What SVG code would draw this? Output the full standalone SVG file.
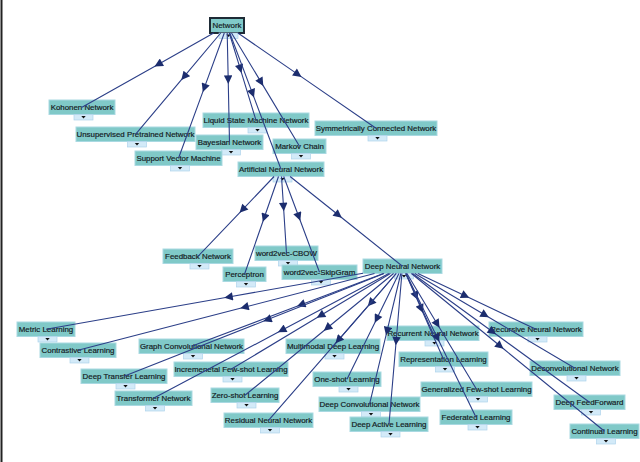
<svg xmlns="http://www.w3.org/2000/svg" xmlns:xlink="http://www.w3.org/1999/xlink" width="640" height="462" viewBox="0 0 640 462">
<style>
.box{fill:#80c9c8;stroke:#a9d9e2;stroke-width:1}
.root{fill:#80c9c8;stroke:#1e2b36;stroke-width:2}
.lbl{font-family:"Liberation Sans",Arial,sans-serif;font-size:7.9px;fill:#141a22;stroke:#141a22;stroke-width:0.18;text-anchor:middle}
.tgr{fill:#d3eaf8;stroke:#aed3ec;stroke-width:0.7}
.edge{fill:none;stroke:#2c3f88;stroke-width:1.1;marker-mid:url(#arr)}
</style>
<defs>
<marker id="arr" viewBox="0 0 10 10" refX="10" refY="5" markerWidth="10" markerHeight="8.5" markerUnits="userSpaceOnUse" orient="auto"><path d="M0,0 L10,5 L0,10 z" fill="#1c2d6e"/></marker>
<g id="tg"><rect x="-9.5" y="0" width="19" height="5.5" class="tgr"/><path d="M-2.2,1.4 L2.2,1.4 L0,4.1 z" fill="#111"/></g>
</defs>
<rect width="640" height="462" fill="#ffffff"/>
<line x1="1.5" y1="0" x2="1.5" y2="462" stroke="#222" stroke-width="2"/>

<g id="nodes">
<g id="n-network"><rect class="root" x="210" y="18" width="34" height="15"/><text class="lbl" x="227" y="28.3">Network</text><use xlink:href="#tg" x="228.5" y="33"/></g>
<g id="n-kohonen"><rect class="box" x="49" y="100" width="66" height="14.5"/><text class="lbl" x="82" y="110.3">Kohonen Network</text><use xlink:href="#tg" x="83.5" y="114.5"/></g>
<g id="n-unsup"><rect class="box" x="76" y="127" width="119" height="14.5"/><text class="lbl" x="135.5" y="137.3">Unsupervised Pretrained Network</text><use xlink:href="#tg" x="137" y="141.5"/></g>
<g id="n-lsm"><rect class="box" x="203" y="113" width="106" height="14.5"/><text class="lbl" x="256" y="123.3">Liquid State Machine Network</text><use xlink:href="#tg" x="257.5" y="127.5"/></g>
<g id="n-symm"><rect class="box" x="315" y="121" width="122" height="14.5"/><text class="lbl" x="376" y="131.3">Symmetrically Connected Network</text><use xlink:href="#tg" x="377.5" y="135.5"/></g>
<g id="n-bayes"><rect class="box" x="196" y="135" width="67" height="14.5"/><text class="lbl" x="229.5" y="145.3">Bayesian Network</text><use xlink:href="#tg" x="231" y="149.5"/></g>
<g id="n-markov"><rect class="box" x="273" y="139" width="53" height="14.5"/><text class="lbl" x="299.5" y="149.3">Markov Chain</text><use xlink:href="#tg" x="301" y="153.5"/></g>
<g id="n-svm"><rect class="box" x="135" y="151" width="87" height="14.5"/><text class="lbl" x="178.5" y="161.3">Support Vector Machine</text><use xlink:href="#tg" x="180" y="165.5"/></g>
<g id="n-ann"><rect class="box" x="238" y="162" width="86" height="14.5"/><text class="lbl" x="281" y="172.3">Artificial Neural Network</text><use xlink:href="#tg" x="282.5" y="176.5"/></g>
<g id="n-feedback"><rect class="box" x="163" y="249" width="70" height="14.5"/><text class="lbl" x="198" y="259.3">Feedback Network</text><use xlink:href="#tg" x="199.5" y="263.5"/></g>
<g id="n-cbow"><rect class="box" x="255" y="246" width="63" height="14.5"/><text class="lbl" x="286.5" y="256.3">word2vec-CBOW</text><use xlink:href="#tg" x="288" y="260.5"/></g>
<g id="n-perceptron"><rect class="box" x="223" y="267" width="43" height="14.5"/><text class="lbl" x="244.5" y="277.3">Perceptron</text><use xlink:href="#tg" x="246" y="281.5"/></g>
<g id="n-skipgram"><rect class="box" x="282" y="265" width="75" height="14.5"/><text class="lbl" x="319.5" y="275.3">word2vec-SkipGram</text><use xlink:href="#tg" x="321" y="279.5"/></g>
<g id="n-dnn"><rect class="box" x="363" y="259" width="79" height="14.5"/><text class="lbl" x="402.5" y="269.3">Deep Neural Network</text><use xlink:href="#tg" x="404" y="273.5"/></g>
<g id="n-metric"><rect class="box" x="17" y="322" width="58" height="14.5"/><text class="lbl" x="46" y="332.3">Metric Learning</text><use xlink:href="#tg" x="47.5" y="336.5"/></g>
<g id="n-contrastive"><rect class="box" x="40" y="343" width="76" height="14.5"/><text class="lbl" x="78" y="353.3">Contrastive Learning</text><use xlink:href="#tg" x="79.5" y="357.5"/></g>
<g id="n-gcn"><rect class="box" x="139" y="339" width="105" height="14.5"/><text class="lbl" x="191.5" y="349.3">Graph Convolutional Network</text><use xlink:href="#tg" x="193" y="353.5"/></g>
<g id="n-multimodal"><rect class="box" x="286" y="339" width="94" height="14.5"/><text class="lbl" x="333" y="349.3">Multimodal Deep Learning</text><use xlink:href="#tg" x="334.5" y="353.5"/></g>
<g id="n-incremental"><rect class="box" x="174" y="362" width="114" height="14.5"/><text class="lbl" x="231" y="372.3">Incremenetal Few-shot Learning</text><use xlink:href="#tg" x="232.5" y="376.5"/></g>
<g id="n-transfer"><rect class="box" x="81" y="369" width="86" height="14.5"/><text class="lbl" x="124" y="379.3">Deep Transfer Learning</text><use xlink:href="#tg" x="125.5" y="383.5"/></g>
<g id="n-zeroshot"><rect class="box" x="211" y="388" width="68" height="14.5"/><text class="lbl" x="245" y="398.3">Zero-shot Learning</text><use xlink:href="#tg" x="246.5" y="402.5"/></g>
<g id="n-transformer"><rect class="box" x="115" y="391" width="77" height="14.5"/><text class="lbl" x="153.5" y="401.3">Transformer Network</text><use xlink:href="#tg" x="155" y="405.5"/></g>
<g id="n-residual"><rect class="box" x="224" y="413" width="89" height="14.5"/><text class="lbl" x="268.5" y="423.3">Residual Neural Network</text><use xlink:href="#tg" x="270" y="427.5"/></g>
<g id="n-recurrent"><rect class="box" x="387" y="326" width="92" height="14.5"/><text class="lbl" x="433" y="336.3">Recurrent Neural Network</text><use xlink:href="#tg" x="434.5" y="340.5"/></g>
<g id="n-recursive"><rect class="box" x="489" y="322" width="94" height="14.5"/><text class="lbl" x="536" y="332.3">Recursive Neural Network</text><use xlink:href="#tg" x="537.5" y="336.5"/></g>
<g id="n-representation"><rect class="box" x="399" y="352" width="89" height="14.5"/><text class="lbl" x="443.5" y="362.3">Representation Learning</text><use xlink:href="#tg" x="445" y="366.5"/></g>
<g id="n-deconv"><rect class="box" x="530" y="361" width="90" height="14.5"/><text class="lbl" x="575" y="371.3">Deconvolutional Network</text><use xlink:href="#tg" x="576.5" y="375.5"/></g>
<g id="n-oneshot"><rect class="box" x="313" y="372" width="68" height="14.5"/><text class="lbl" x="347" y="382.3">One-shot Learning</text><use xlink:href="#tg" x="348.5" y="386.5"/></g>
<g id="n-genfewshot"><rect class="box" x="421" y="382" width="111" height="14.5"/><text class="lbl" x="476.5" y="392.3">Generalized Few-shot Learning</text><use xlink:href="#tg" x="478" y="396.5"/></g>
<g id="n-deepconv"><rect class="box" x="319" y="397" width="101" height="14.5"/><text class="lbl" x="369.5" y="407.3">Deep Convolutional Network</text><use xlink:href="#tg" x="371" y="411.5"/></g>
<g id="n-deepff"><rect class="box" x="554" y="395" width="71" height="14.5"/><text class="lbl" x="589.5" y="405.3">Deep FeedForward</text><use xlink:href="#tg" x="591" y="409.5"/></g>
<g id="n-deepactive"><rect class="box" x="350" y="417" width="78" height="14.5"/><text class="lbl" x="389" y="427.3">Deep Active Learning</text><use xlink:href="#tg" x="390.5" y="431.5"/></g>
<g id="n-federated"><rect class="box" x="440" y="410" width="72" height="14.5"/><text class="lbl" x="476" y="420.3">Federated Learning</text><use xlink:href="#tg" x="477.5" y="424.5"/></g>
<g id="n-continual"><rect class="box" x="570" y="424" width="69" height="14.5"/><text class="lbl" x="604.5" y="434.3">Continual Learning</text><use xlink:href="#tg" x="606" y="438.5"/></g>
</g>

<g id="connectors">
<path class="edge" d="M213.7,33 L154.5,66.4 L82,107.3"/>
<path class="edge" d="M220.7,33 L181.3,79.9 L135.5,134.3"/>
<path class="edge" d="M229.3,33 L241.5,72.9 L256,120.3"/>
<path class="edge" d="M237.9,33 L301.5,76.9 L376,128.3"/>
<path class="edge" d="M227.2,33 L228.3,83.9 L229.5,142.3"/>
<path class="edge" d="M231.5,33 L263.3,85.9 L299.5,146.3"/>
<path class="edge" d="M224.3,33 L202.8,91.9 L178.5,158.3"/>
<path class="edge" d="M229.8,33 L254,97.4 L281,169.3"/>
<path class="edge" d="M274.1,176.5 L239.5,212.8 L198,256.3"/>
<path class="edge" d="M281.5,176.5 L283.8,211.3 L286.5,253.3"/>
<path class="edge" d="M278.5,176.5 L262.8,221.8 L244.5,274.3"/>
<path class="edge" d="M283.7,176.5 L300.3,220.8 L319.5,272.3"/>
<path class="edge" d="M290.1,176.5 L341.8,217.8 L402.5,266.3"/>
<path class="edge" d="M363,273.2 L224.3,297.8 L46,329.3"/>
<path class="edge" d="M374.5,273.5 L240.3,308.3 L78,350.3"/>
<path class="edge" d="M383.4,273.5 L297,306.3 L191.5,346.3"/>
<path class="edge" d="M396.2,273.5 L367.8,306.3 L333,346.3"/>
<path class="edge" d="M390.4,273.5 L316.8,317.8 L231,369.3"/>
<path class="edge" d="M384.1,273.5 L263.3,321.3 L124,376.3"/>
<path class="edge" d="M393.6,273.5 L323.8,330.8 L245,395.3"/>
<path class="edge" d="M388.8,273.5 L278,332.3 L153.5,398.3"/>
<path class="edge" d="M396.2,273.5 L335.5,343.3 L268.5,420.3"/>
<path class="edge" d="M405.8,273.5 L417.8,299.8 L433,333.3"/>
<path class="edge" d="M417.9,273.5 L469.3,297.8 L536,329.3"/>
<path class="edge" d="M405.7,273.5 L423,312.8 L443.5,359.3"/>
<path class="edge" d="M414.8,273.5 L488.8,317.3 L575,368.3"/>
<path class="edge" d="M398.9,273.5 L374.8,322.8 L347,379.3"/>
<path class="edge" d="M406.9,273.5 L439.5,327.8 L476.5,389.3"/>
<path class="edge" d="M400.8,273.5 L386,335.3 L369.5,404.3"/>
<path class="edge" d="M412.5,273.5 L496,334.3 L589.5,402.3"/>
<path class="edge" d="M401.9,273.5 L395.8,345.3 L389,424.3"/>
<path class="edge" d="M406,273.5 L439.3,341.8 L476,417.3"/>
<path class="edge" d="M411.4,273.5 L503.5,348.8 L604.5,431.3"/>
</g>
</svg>
